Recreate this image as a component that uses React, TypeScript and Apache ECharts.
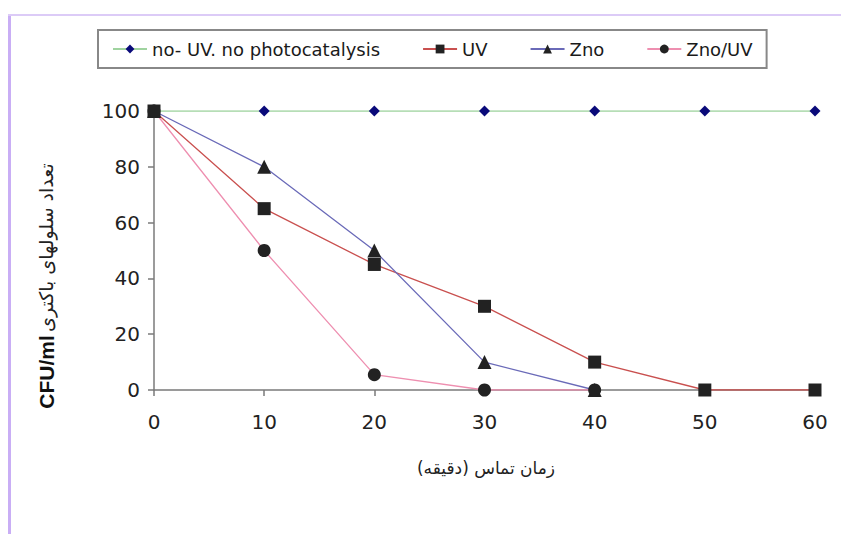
import React, { useEffect, useRef } from "react";
import * as echarts from "echarts";

const times = [0, 10, 20, 30, 40, 50, 60];
const noUV = [100, 100, 100, 100, 100, 100, 100];
const uv = [100, 65, 45, 30, 10, 0, 0];
const zno = [100, 80, 50, 10, 0];
const znoUV = [100, 50, 5.5, 0, 0];
const seriesNames = ["no- UV. no photocatalysis", "UV", "Zno", "Zno/UV"];
const xTitle = "زمان تماس (دقیقه)";
const yTitleUnit = "CFU/ml";
const yTitleText = "تعداد سلولهای باکتری";

const pair = (vals: number[]) => vals.map((v, i) => [times[i], v]);

export default function App() {
  const ref = useRef<HTMLDivElement>(null);
  useEffect(() => {
    if (!ref.current) return;
    const chart = echarts.init(ref.current, null, { renderer: "svg" });
    const font = "DejaVu Sans";
    chart.setOption({
      animation: false,
      backgroundColor: "#ffffff",
      legend: {
        left: 98,
        top: 30,
        padding: [10, 14, 10, 14],
        itemGap: 42,
        itemWidth: 34,
        itemHeight: 11,
        borderColor: "#888888",
        borderWidth: 2,
        textStyle: { fontFamily: font, fontSize: 18, color: "#1a1a1a" },
        data: seriesNames,
      },
      grid: { left: 154, right: 26, top: 111, bottom: 144 },
      xAxis: {
        type: "value",
        min: 0,
        max: 60,
        interval: 10,
        splitLine: { show: false },
        axisLine: { lineStyle: { color: "#7a7a7a", width: 1.5 } },
        axisTick: { show: true, length: 6, lineStyle: { color: "#7a7a7a", width: 1.5 } },
        axisLabel: { fontFamily: font, fontSize: 20, color: "#222", margin: 22 },
      },
      yAxis: {
        type: "value",
        min: 0,
        max: 100,
        interval: 20,
        splitLine: { show: false },
        axisLine: { show: true, lineStyle: { color: "#7a7a7a", width: 1.5 } },
        axisTick: { show: true, length: 6, lineStyle: { color: "#7a7a7a", width: 1.5 } },
        axisLabel: { fontFamily: font, fontSize: 20, color: "#222", margin: 14 },
      },
      graphic: [
        { type: "rect", shape: { x: 8, y: 15, width: 3, height: 519 }, style: { fill: "#c9aef5" }, silent: true },
        { type: "rect", shape: { x: 8, y: 14, width: 833, height: 2 }, style: { fill: "#dccbf7" }, silent: true },
        {
          type: "text",
          x: 486,
          y: 468,
          style: {
            text: xTitle,
            fontFamily: font,
            fontSize: 17,
            fill: "#222",
            align: "center",
            verticalAlign: "middle",
          },
        },
        {
          type: "text",
          x: 46,
          y: 286,
          rotation: Math.PI / 2,
          style: {
            text: "{a|" + yTitleUnit + "} {b|" + yTitleText + "}",
            align: "center",
            verticalAlign: "middle",
            rich: {
              a: { fontFamily: "Liberation Sans", fontWeight: "bold", fontSize: 21, fill: "#111" },
              b: { fontFamily: font, fontSize: 19, fill: "#222" },
            },
          },
        },
      ],
      series: [
        {
          name: seriesNames[0],
          type: "line",
          data: pair(noUV),
          symbol: "diamond",
          symbolSize: 11,
          lineStyle: { color: "#9fd39f", width: 1.3 },
          itemStyle: { color: "#0a0a7a" },
        },
        {
          name: seriesNames[1],
          type: "line",
          data: pair(uv),
          symbol: "rect",
          symbolSize: 13,
          lineStyle: { color: "#c9504f", width: 1.3 },
          itemStyle: { color: "#222222" },
        },
        {
          name: seriesNames[2],
          type: "line",
          data: pair(zno),
          symbol: "triangle",
          symbolSize: 14,
          lineStyle: { color: "#6a6ab8", width: 1.3 },
          itemStyle: { color: "#222222" },
        },
        {
          name: seriesNames[3],
          type: "line",
          data: pair(znoUV),
          symbol: "circle",
          symbolSize: 13,
          lineStyle: { color: "#ee8fb0", width: 1.3 },
          itemStyle: { color: "#222222" },
        },
      ],
    });
    return () => chart.dispose();
  }, []);
  return (
    <div
      ref={ref}
      style={{ position: "fixed", left: 0, top: 0, width: 841, height: 534 }}
    />
  );
}
